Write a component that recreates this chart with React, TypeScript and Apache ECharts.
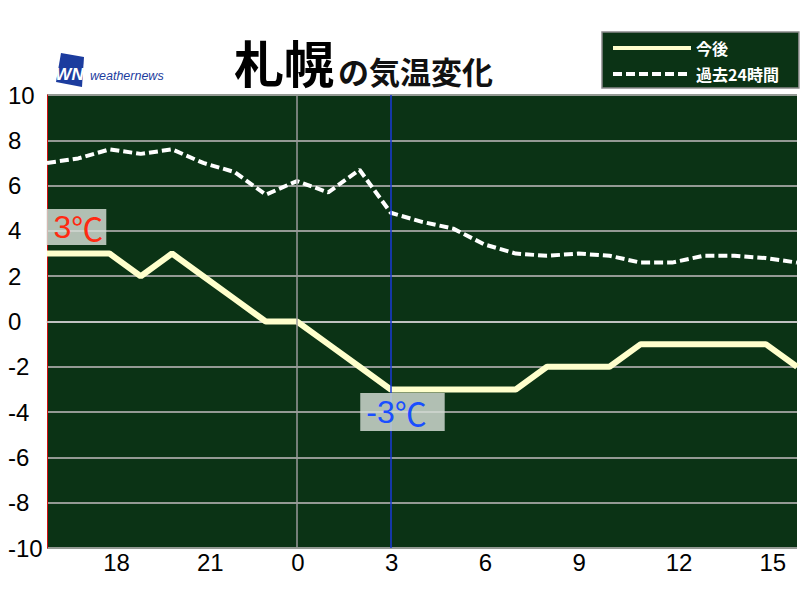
import React, { useEffect, useRef } from 'react';
import * as echarts from 'echarts';

// Hours along the x axis (24 hours, 16:00 to 16:00 next day)
const hours = ['16','17','18','19','20','21','22','23','0','1','2','3','4','5','6','7','8','9','10','11','12','13','14','15','16'];
const tickLabels = ['18','21','0','3','6','9','12','15'];
// 今後 (forecast)
const forecast = [3,3,3,2,3,2,1,0,0,-1,-2,-3,-3,-3,-3,-3,-2,-2,-2,-1,-1,-1,-1,-1,-2];
// 過去24時間 (past 24 hours)
const past = [7.0,7.2,7.6,7.4,7.6,7.0,6.6,5.6,6.2,5.7,6.7,4.8,4.4,4.1,3.4,3.0,2.9,3.0,2.9,2.6,2.6,2.9,2.9,2.8,2.6];
const yMin = -10;
const yMax = 10;
const yStep = 2;
const seriesNames = ['今後', '過去24時間'];
const midnightLabel = '0';
const nowLabel = '3';
const titleCity = '札幌';
const titleRest = 'の気温変化';
const unit = '℃';

const numFont = "'Liberation Sans', Arial, sans-serif";
const cjkFont = "'Noto Sans CJK JP', sans-serif";

export default function App() {
  const ref = useRef<HTMLDivElement>(null);
  useEffect(() => {
    if (!ref.current) return;
    const chart = echarts.init(ref.current, null, { renderer: 'svg' });
    const midIdx = hours.indexOf(midnightLabel);
    const nowIdx = hours.indexOf(nowLabel);
    const startIdx = 0;
    const calloutRich = (color: string) => ({
      n: { color, fontSize: 32, fontFamily: numFont, lineHeight: 36 },
      u: { color, fontSize: 32, fontFamily: cjkFont, lineHeight: 36 },
    });
    const boxColor = 'rgba(214,222,215,0.82)';
    const option: any = {
      animation: false,
      backgroundColor: '#ffffff',
      title: {
        text: `{a|${titleCity}}{b|${titleRest}}`,
        left: 234,
        top: 30,
        padding: 0,
        textStyle: {
          rich: {
            a: { fontSize: 50, fontWeight: 'bold', color: '#000', fontFamily: cjkFont, lineHeight: 56, verticalAlign: 'bottom' },
            b: { fontSize: 31, color: '#111', fontFamily: cjkFont, lineHeight: 56, verticalAlign: 'bottom', padding: [0, 0, 0, 4] },
          },
        },
      },
      legend: {
        data: seriesNames,
        orient: 'vertical',
        left: 602,
        top: 32,
        itemWidth: 78,
        itemHeight: 14,
        itemGap: 10,
        padding: [8, 20, 6, 9],
        backgroundColor: '#0b3315',
        borderColor: '#8a8a8a',
        borderWidth: 1.5,
        borderRadius: 0,
        itemStyle: { opacity: 0 },
        lineStyle: { width: 4 },
        textStyle: { color: '#ffffff', fontSize: 16, fontWeight: 'bold', fontFamily: cjkFont },
      },
      grid: {
        left: 47,
        right: 3,
        top: 95,
        bottom: 52,
        show: true,
        backgroundColor: '#0b3315',
        borderWidth: 0,
      },
      xAxis: {
        type: 'category',
        data: hours,
        boundaryGap: false,
        axisLine: { show: true, lineStyle: { color: '#cfcfcf', width: 1.5 } },
        axisTick: { show: false },
        splitLine: { show: false },
        axisLabel: {
          interval: (i: number, v: string) => i > 0 && i < hours.length - 1 && tickLabels.includes(v),
          align: 'center',
          margin: 2,
          formatter: (v: string) => (v.length > 1 ? `{w|${v}}` : `{n|${v}}`),
          rich: {
            w: { color: '#000', fontSize: 24, fontFamily: numFont, padding: [0, 0, 0, 14] },
            n: { color: '#000', fontSize: 24, fontFamily: numFont, padding: [0, 0, 0, 2] },
          },
        },
      },
      yAxis: {
        type: 'value',
        min: yMin,
        max: yMax,
        interval: yStep,
        axisLine: { show: true, lineStyle: { color: '#d01010', width: 1 } },
        axisTick: { show: false },
        splitLine: { show: true, lineStyle: { color: '#949a94', width: 2 } },
        axisLabel: {
          align: 'left',
          margin: 39,
          color: '#000',
          fontSize: 24,
          fontFamily: numFont,
        },
      },
      graphic: [
        {
          type: 'polygon',
          shape: { points: [[61, 53], [84, 57], [82, 87], [56, 82]] },
          style: { fill: '#1c3c9e' },
        },
        {
          type: 'text',
          x: 69.5,
          y: 74,
          style: {
            text: 'WN',
            fill: '#ffffff',
            fontSize: 17,
            fontWeight: 'bold',
            fontStyle: 'italic',
            fontFamily: numFont,
            align: 'center',
            verticalAlign: 'middle',
          },
        },
        {
          type: 'text',
          x: 90,
          y: 75.5,
          style: {
            text: 'weathernews',
            fill: '#1c3c9e',
            fontSize: 12.5,
            fontStyle: 'italic',
            fontFamily: numFont,
            verticalAlign: 'middle',
          },
        },
      ],
      series: [
        {
          type: 'line',
          data: [],
          z: 1,
          silent: true,
          markLine: {
            silent: true,
            symbol: 'none',
            label: { show: false },
            data: [
              { xAxis: midIdx, lineStyle: { color: '#9a9a9a', width: 1.5, type: 'solid' } },
              { xAxis: nowIdx, lineStyle: { color: '#1a3ad8', width: 1.5, type: 'solid' } },
            ],
          },
        },
        {
          name: seriesNames[1],
          type: 'line',
          data: past,
          z: 3,
          symbol: 'none',
          lineStyle: { color: '#ffffff', width: 4, type: [9, 4] },
          itemStyle: { color: '#ffffff' },
        },
        {
          name: seriesNames[0],
          type: 'line',
          data: forecast,
          z: 4,
          symbol: 'none',
          lineStyle: { color: '#ffffcc', width: 6 },
          itemStyle: { color: '#ffffcc' },
          markPoint: {
            symbol: 'rect',
            symbolSize: 1,
            itemStyle: { color: 'rgba(0,0,0,0)' },
            data: [
              {
                coord: [startIdx, forecast[startIdx]],
                label: {
                  show: true,
                  position: [0, 0],
                  formatter: `{n|${forecast[startIdx]}}{u|${unit}}`,
                  rich: calloutRich('#ff2a12'),
                  backgroundColor: boxColor,
                  padding: [0, 3, 0, 7],
                  align: 'left',
                  verticalAlign: 'bottom',
                  offset: [0, -8],
                },
              },
              {
                coord: [nowIdx, forecast[nowIdx]],
                label: {
                  show: true,
                  position: [0, 0],
                  formatter: `{n|${forecast[nowIdx]}}{u|${unit}}`,
                  rich: calloutRich('#1a4fff'),
                  backgroundColor: boxColor,
                  padding: [1, 18, 1, 6],
                  align: 'left',
                  verticalAlign: 'top',
                  offset: [-30, 4],
                },
              },
            ],
          },
        },
      ],
    };
    chart.setOption(option);
    return () => chart.dispose();
  }, []);
  return <div ref={ref} style={{ position: 'absolute', left: 0, top: 0, width: 800, height: 600 }} />;
}
